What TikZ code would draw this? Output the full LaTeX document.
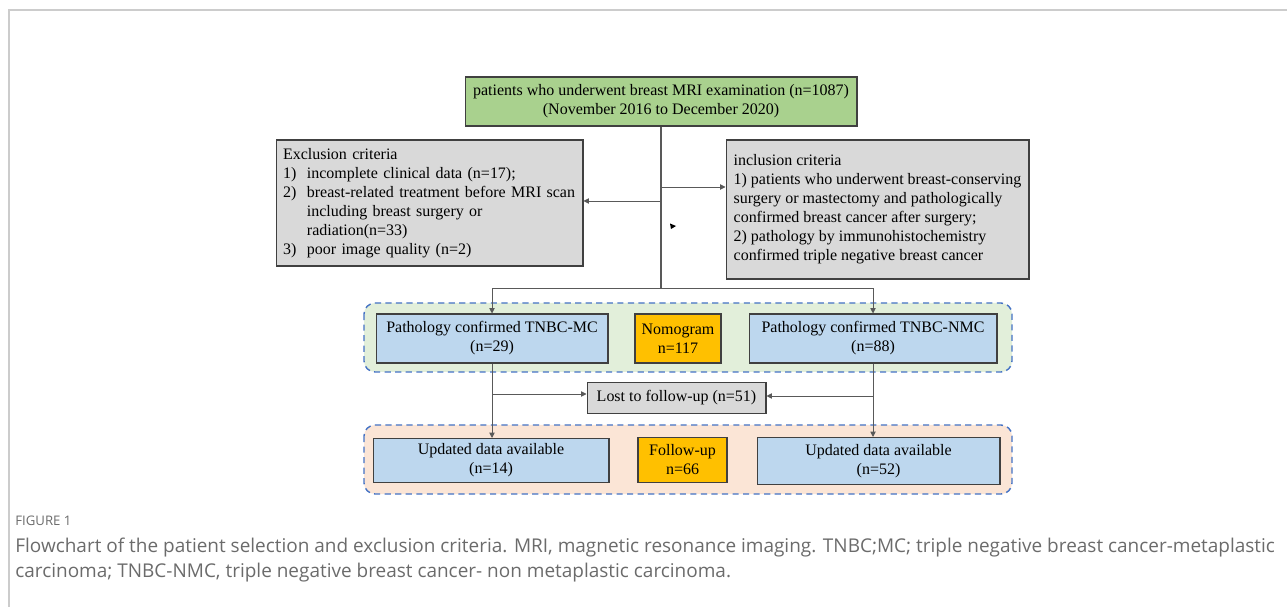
\documentclass[tikz,border=0pt]{standalone}
\usepackage{fontspec}
\setmainfont{Liberation Serif}
\newfontfamily\capfont{Open Sans}
\usetikzlibrary{arrows.meta}

\definecolor{boxline}{HTML}{404040}
\definecolor{linegray}{HTML}{595959}
\definecolor{greenfill}{HTML}{A9D18E}
\definecolor{greyfill}{HTML}{D9D9D9}
\definecolor{bluefill}{HTML}{BDD7EE}
\definecolor{goldfill}{HTML}{FFC000}
\definecolor{greenzone}{HTML}{E2EFDA}
\definecolor{pinkzone}{HTML}{FBE5D6}
\definecolor{dashblue}{HTML}{4472C4}
\definecolor{framegray}{HTML}{CCCCCC}
\definecolor{captiongray}{HTML}{6B6B6B}

\tikzset{
  box/.style={draw=boxline, line width=0.6pt, font=\fontsize{9.1}{10.8}\selectfont,
    align=center, inner sep=0pt, minimum height=0.98cm},
  listbox/.style={box, fill=greyfill, align=left, inner xsep=0.14cm},
  zone/.style={draw=dashblue, dashed, dash pattern=on 3.5pt off 2.5pt, line width=0.8pt,
    rounded corners=0.22cm},
  arr/.style={draw=linegray, line width=0.5pt, -{Triangle[length=3pt,width=3pt]}},
  link/.style={draw=linegray, line width=0.5pt}
}

\begin{document}
\begin{tikzpicture}[x=0.02cm,y=-0.02cm]
        \useasboundingbox (0,0) rectangle (1287,607);

        % Cornice
        \draw[framegray, line width=0.6pt] (1287,10) -- (9,10) -- (9,607);

        % Zone tratteggiate
        \draw[zone, fill=greenzone] (364,303) rectangle (1012,372);
        \draw[zone, fill=pinkzone] (364,425) rectangle (1012,494);

        % Riquadri
        \node[box, fill=greenfill, minimum width=7.84cm] (mri) at (661,101.5)
          {patients who underwent breast MRI examination (n=1087)\\(November 2016 to December 2020)};

        \node[listbox, text width=5.86cm, minimum height=2.52cm] (excl) at (429.5,203)
          {Exclusion criteria\\
           \makebox[13.6pt][l]{1)}incomplete clinical data (n=17);\\
           \makebox[13.6pt][l]{2)}breast-related treatment before MRI scan\\
           \hspace*{13.6pt}including breast surgery or\\
           \hspace*{13.6pt}radiation(n=33)\\
           \makebox[13.6pt][l]{3)}poor image quality (n=2)};

        \node[listbox, minimum width=6.06cm, minimum height=2.78cm] (incl) at (877.5,209.5)
          {inclusion criteria\\
           1) patients who underwent breast-conserving\\
           surgery or mastectomy and pathologically\\
           confirmed breast cancer after surgery;\\
           2) pathology by immunohistochemistry\\
           confirmed triple negative breast cancer};

        \node[box, fill=bluefill, minimum width=4.64cm] (mc) at (492,338.5)
          {Pathology confirmed TNBC-MC\\(n=29)};
        \node[box, fill=goldfill, minimum width=1.72cm] (nomo) at (678,338.5)
          {Nomogram\\n=117};
        \node[box, fill=bluefill, minimum width=4.96cm] (nmc) at (873,338.5)
          {Pathology confirmed TNBC-NMC\\(n=88)};

        \node[box, fill=greyfill, minimum width=3.58cm, minimum height=0.62cm] (lost) at (676.5,398)
          {Lost to follow-up (n=51)};

        \node[box, fill=bluefill, minimum width=4.72cm, minimum height=0.88cm] (upmc) at (491,460.5)
          {Updated data available\\(n=14)};
        \node[box, fill=goldfill, minimum width=1.78cm, minimum height=0.9cm] (follow) at (682.5,460)
          {Follow-up\\n=66};
        \node[box, fill=bluefill, minimum width=4.86cm, minimum height=0.94cm] (upnmc) at (878.5,461)
          {Updated data available\\(n=52)};

        % Collegamenti
        \coordinate (split) at (661,288);
        \coordinate (toexcl) at (661,201);
        \coordinate (toincl) at (661,187);
        \draw[link, line width=0.9pt] (mri.south) -- (split);
        \draw[arr] (toexcl) -- (toexcl -| excl.east);
        \draw[arr] (toincl) -- (toincl -| incl.west);
        \draw[arr] (split) -| (mc.north);
        \draw[arr] (split) -| (nmc.north);

        \draw[arr] (mc.south) -- (mc.south |- upmc.north);
        \draw[arr] (nmc.south) -- (nmc.south |- upnmc.north);
        \coordinate (lostl) at (492,394);
        \coordinate (lostr) at (873,396);
        \draw[arr] (lostl) -- (lostl -| lost.west);
        \draw[arr] (lostr) -- (lostr -| lost.east);

        % Punta di freccia isolata
        \fill[black] (670,223.5) -- (676,226) -- (671,229) -- cycle;

        % Didascalia
        \node[anchor=west, inner sep=0pt, text=captiongray, font=\capfont\fontsize{7.5}{9}\selectfont] (figlab) at (15,521)
          {FIGURE 1};
        \node[anchor=north west, inner sep=0pt, align=left, text=captiongray,
          font=\capfont\fontsize{10.8}{14.2}\selectfont] (caption) at (15,538)
          {Flowchart of the patient selection and exclusion criteria. MRI, magnetic resonance imaging. TNBC;MC; triple negative breast cancer-metaplastic\\
           carcinoma; TNBC-NMC, triple negative breast cancer- non metaplastic carcinoma.};
\end{tikzpicture}
\end{document}
